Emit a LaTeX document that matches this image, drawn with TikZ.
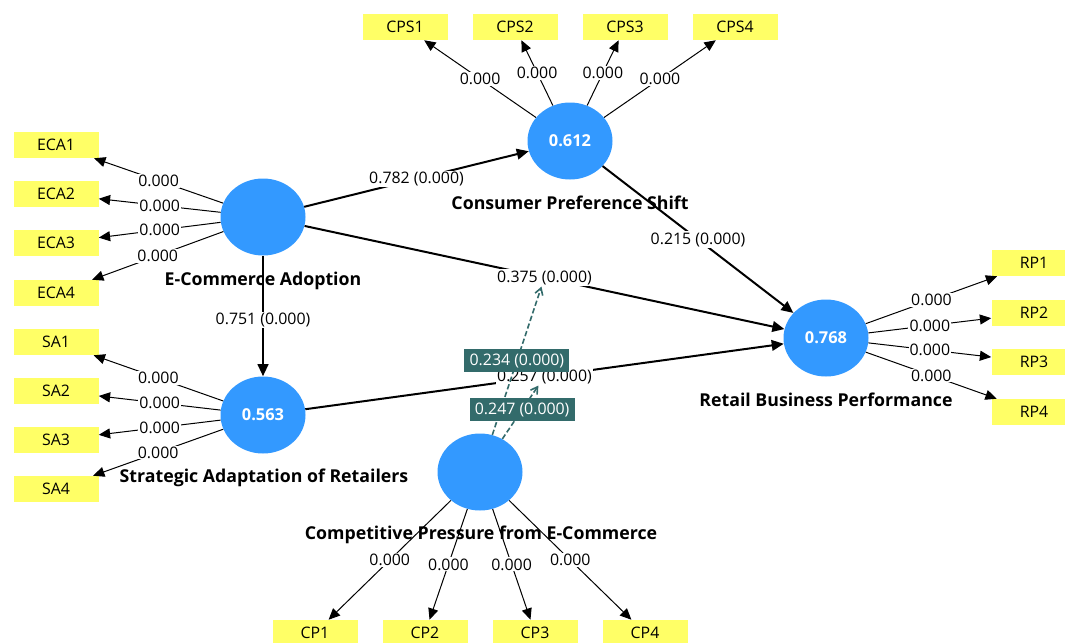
\documentclass[tikz,border=0pt]{standalone}
\usepackage{fontspec}
\setmainfont{Open Sans}
\usetikzlibrary{shapes.geometric,arrows.meta}
\definecolor{nodeblue}{HTML}{3399FF}
\definecolor{indyellow}{HTML}{FFFF66}
\definecolor{modteal}{HTML}{336B6B}
\newcommand{\dfs}{\fontsize{11.9pt}{14pt}\selectfont}
\newcommand{\dfb}{\fontsize{13.3pt}{15pt}\selectfont\bfseries}
\tikzset{
  latent/.style={ellipse, fill=nodeblue, minimum width=63.75pt, minimum height=57.75pt, inner sep=0pt, text=white, font=\fontsize{12.3pt}{14pt}\selectfont\bfseries},
  ind/.style={rectangle, fill=indyellow, minimum width=63.75pt, minimum height=19.5pt, inner sep=0pt, font=\dfs},
  lab/.style={fill=white, inner sep=0.8pt, font=\dfs},
  latname/.style={font=\dfb, inner sep=0pt},
  load/.style={line width=0.75pt, -{Triangle[length=8.5pt,width=7.5pt]}},
  struct/.style={line width=1.5pt, -{Triangle[length=9pt,width=8pt]}},
  modline/.style={draw=modteal, dash pattern=on 4pt off 2pt, line width=1.2pt, -{Straight Barb[length=5pt,width=6pt]}},
  tlab/.style={fill=modteal, text=white, font=\dfs, inner xsep=3pt, minimum height=16.5pt, minimum width=78.75pt}
}
\begin{document}
\begin{tikzpicture}[x=0.75pt,y=-0.75pt]
\useasboundingbox (0,0) rectangle (1065,643);
\fill[white] (0,0) rectangle (1065,643);
% latent variables
\node[latent] (eca) at (263,217) {};
\node[latent] (cps) at (570,141) {0.612};
\node[latent] (sa) at (263,415) {0.563};
\node[latent] (rbp) at (826,338) {0.768};
\node[latent] (cp) at (480,472) {};
% names
\node[latname] (ecan) at (263,281) {E-Commerce Adoption};
\node[latname] (cpsn) at (570,203) {Consumer Preference Shift};
\node[latname] (san) at (264,478) {Strategic Adaptation of Retailers};
\node[latname] (cpn) at (481,535) {Competitive Pressure from E-Commerce};
\node[latname] (rbpn) at (826,400) {Retail Business Performance};
% indicators
\foreach \i/\y in {1/145,2/194,3/243,4/293} \node[ind] (ECA\i) at (56,\y) {ECA\i};
\foreach \i/\y in {1/342,2/391,3/440,4/489} \node[ind] (SA\i) at (56,\y) {SA\i};
\foreach \i/\x in {1/405,2/515,3/625,4/735} \node[ind] (CPS\i) at (\x,27) {CPS\i};
\foreach \i/\x in {1/315,2/425,3/535,4/645} \node[ind] (CP\i) at (\x,633) {CP\i};
\foreach \i/\y in {1/263,2/313,3/362,4/412} \node[ind] (RP\i) at (1034,\y) {RP\i};
% loadings
\foreach \i in {1,2,3,4} {
  \draw[load] (eca) -- node[lab]{0.000} (ECA\i);
  \draw[load] (sa) -- node[lab]{0.000} (SA\i);
  \draw[load] (cps) -- node[lab]{0.000} (CPS\i);
  \draw[load] (cp) -- node[lab]{0.000} (CP\i);
  \draw[load] (rbp) -- node[lab]{0.000} (RP\i);
}
% structural paths
\draw[struct] (eca) -- node[lab] (l782) {0.782 (0.000)} (cps);
\draw[struct] (cps) -- node[lab] (l215) {0.215 (0.000)} (rbp);
\draw[struct] (eca) -- node[lab] (l375) {0.375 (0.000)} (rbp);
\draw[struct] (eca) -- node[lab, pos=0.53] (l751) {0.751 (0.000)} (sa);
\draw[struct] (sa) -- node[lab] (l257) {0.257 (0.000)} (rbp);
% moderating effects
\draw[modline] (cp) -- node[tlab] (l234) {0.234 (0.000)} (l375);
\draw[modline] (cp) -- node[tlab, pos=0.55] (l247) {0.247 (0.000)} (l257);
\end{tikzpicture}
\end{document}
